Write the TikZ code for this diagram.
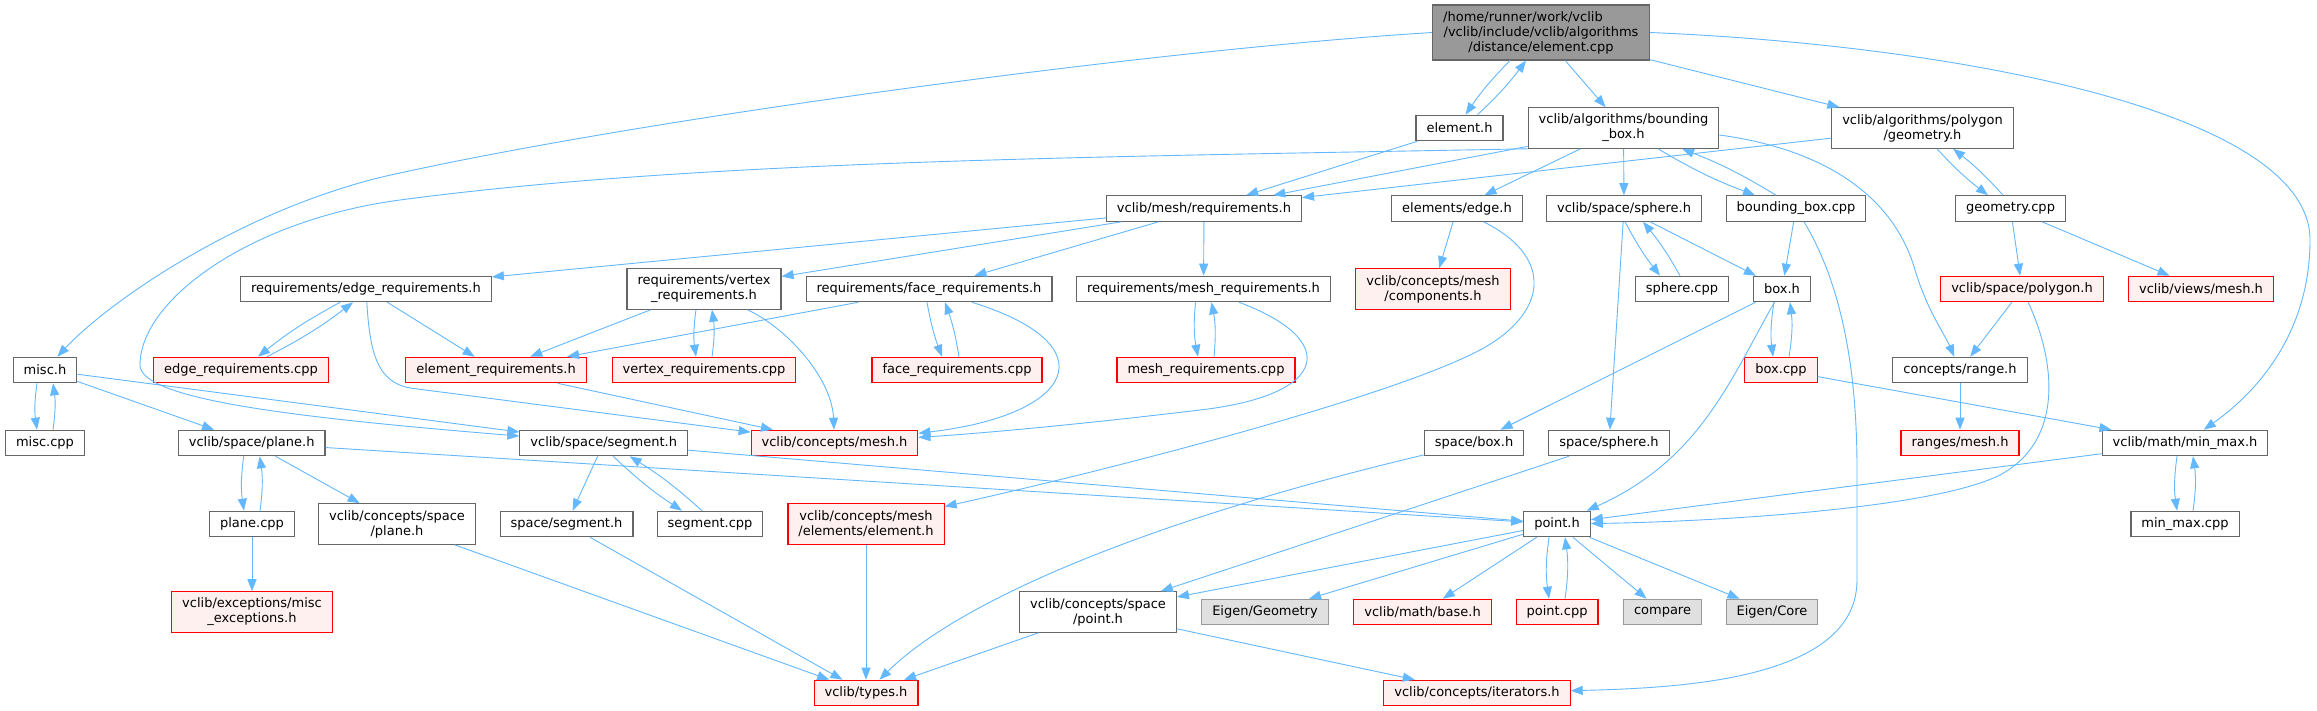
\documentclass[tikz,border=0pt]{standalone}
\usepackage{fontspec}
\setmainfont{DejaVu Sans}
\usetikzlibrary{arrows.meta}
\definecolor{edgeblue}{HTML}{63B8FF}
\definecolor{grey40}{HTML}{666666}
\definecolor{grey60}{HTML}{999999}
\definecolor{truncfill}{HTML}{FFF0F0}
\definecolor{sysfill}{HTML}{E0E0E0}
\begin{document}
\begin{tikzpicture}[x=1pt, y=-1pt,
   inc/.style={draw=grey40, fill=white, line width=1.1pt, font=\fontsize{13}{15}\selectfont,
               inner xsep=10.5pt, inner ysep=2pt, minimum height=25.5pt, align=center},
   two/.style={minimum height=40.5pt},
   trunc/.style={inc, draw=red, fill=truncfill},
   sys/.style={inc, draw=grey60, fill=sysfill},
   rootfile/.style={inc, fill=grey60, minimum height=55pt},
   dep/.style={draw=edgeblue, line width=0.9pt, -{Triangle[length=12pt,width=9pt]}}]
   \useasboundingbox[fill=white] (0,0) rectangle (2317,711);

   \node[rootfile] (root) at (1541,32.5) {/home/runner/work/vclib\hspace*{36pt}\mbox{}\\/vclib/include/vclib/algorithms\\/distance/element.cpp};

   \node[inc] (elemh) at (1459.5,128) {element.h};
   \node[inc,two] (bboxh) at (1623.5,128) {vclib/algorithms/bounding\\\_box.h};
   \node[inc,two] (geomh) at (1922.5,128) {vclib/algorithms/polygon\\/geometry.h};

   \node[inc] (meshreq) at (1204,208.5) {vclib/mesh/requirements.h};
   \node[inc] (edgeh) at (1457,208.5) {elements/edge.h};
   \node[inc] (sphereh) at (1624,208.5) {vclib/space/sphere.h};
   \node[inc] (bboxcpp) at (1796,208.5) {bounding\_box.cpp};
   \node[inc] (geomcpp) at (2010.5,208.5) {geometry.cpp};

   \node[inc] (edgereq) at (366,289) {requirements/edge\_requirements.h};
   \node[inc,two] (vertreq) at (704,289) {requirements/vertex\\\_requirements.h};
   \node[inc] (facereq) at (929,289) {requirements/face\_requirements.h};
   \node[inc] (meshreqh) at (1203.5,289) {requirements/mesh\_requirements.h};
   \node[trunc,two] (comph) at (1433,289) {vclib/concepts/mesh\\/components.h};
   \node[inc] (spherecpp) at (1682,289) {sphere.cpp};
   \node[inc] (boxh) at (1782,289) {box.h};
   \node[trunc] (polyh) at (2022,289) {vclib/space/polygon.h};
   \node[trunc] (viewsh) at (2201,289) {vclib/views/mesh.h};

   \node[inc] (misch) at (45,370) {misc.h};
   \node[trunc] (edgereqcpp) at (241,370) {edge\_requirements.cpp};
   \node[trunc] (elemreq) at (496,370) {element\_requirements.h};
   \node[trunc] (vertreqcpp) at (704,370) {vertex\_requirements.cpp};
   \node[trunc] (facereqcpp) at (957,370) {face\_requirements.cpp};
   \node[trunc] (meshreqcpp) at (1206,370) {mesh\_requirements.cpp};
   \node[trunc] (boxcpp) at (1781,370) {box.cpp};
   \node[inc] (rangeh) at (1960,370) {concepts/range.h};

   \node[inc] (misccpp) at (45,443) {misc.cpp};
   \node[inc] (planeh) at (251.7,443) {vclib/space/plane.h};
   \node[inc] (segh) at (603.7,443) {vclib/space/segment.h};
   \node[trunc] (meshh) at (834.5,443) {vclib/concepts/mesh.h};
   \node[inc] (sboxh) at (1474,443) {space/box.h};
   \node[inc] (ssphereh) at (1609,443) {space/sphere.h};
   \node[trunc] (rangesh) at (1960,443) {ranges/mesh.h};
   \node[inc] (minmaxh) at (2185,443) {vclib/math/min\_max.h};

   \node[inc] (planecpp) at (252,524) {plane.cpp};
   \node[inc,two] (cplaneh) at (397,524) {vclib/concepts/space\\/plane.h};
   \node[inc] (ssegh) at (566.5,524) {space/segment.h};
   \node[inc] (segcpp) at (710,524) {segment.cpp};
   \node[trunc,two] (elementh) at (866,524) {vclib/concepts/mesh\\/elements/element.h};
   \node[inc] (pointh) at (1557,524) {point.h};
   \node[inc] (minmaxcpp) at (2185,524) {min\_max.cpp};

   \node[trunc,two] (miscexc) at (252,612) {vclib/exceptions/misc\\\_exceptions.h};
   \node[inc,two] (cpointh) at (1098,612) {vclib/concepts/space\\/point.h};
   \node[sys] (eigengeo) at (1265,612) {Eigen/Geometry};
   \node[trunc] (baseh) at (1422.5,612) {vclib/math/base.h};
   \node[trunc] (pointcpp) at (1557,612) {point.cpp};
   \node[sys] (compare) at (1662.5,612) {compare};
   \node[sys] (eigencore) at (1772,612) {Eigen/Core};

   \node[trunc] (typesh) at (866,693) {vclib/types.h};
   \node[trunc] (iterh) at (1477,693) {vclib/concepts/iterators.h};

   \foreach \a/\b in {root/bboxh, root/geomh, elemh/meshreq, bboxh/meshreq, bboxh/edgeh,
      bboxh/sphereh, geomh/meshreq, meshreq/edgereq, meshreq/vertreq, meshreq/facereq,
      meshreq/meshreqh, edgeh/comph, sphereh/boxh, sphereh/ssphereh, bboxcpp/boxh,
      geomcpp/polyh, geomcpp/viewsh, edgereq/elemreq, vertreq/elemreq, facereq/elemreq,
      elemreq/meshh, polyh/rangeh, boxh/sboxh, boxcpp/minmaxh, rangeh/rangesh,
      misch/planeh, misch/segh, planeh/cplaneh, planeh/pointh, planecpp/miscexc,
      segh/ssegh, segh/pointh, minmaxh/pointh, ssphereh/cpointh, cplaneh/typesh,
      ssegh/typesh, elementh/typesh, pointh/cpointh, pointh/eigengeo, pointh/baseh,
      pointh/compare, pointh/eigencore, cpointh/typesh, cpointh/iterh}
      \draw[dep] (\a) -- (\b);

   \foreach \a/\b in {vertreq/vertreqcpp, meshreqh/meshreqcpp, boxh/boxcpp, misch/misccpp,
      planeh/planecpp, pointh/pointcpp, minmaxh/minmaxcpp}
   {
      \draw[dep] ([xshift=-8pt]\a.south) to[bend right=8] ([xshift=-8pt]\b.north);
      \draw[dep] ([xshift=8pt]\b.north) to[bend right=8] ([xshift=8pt]\a.south);
   }

   \foreach \a/\b/\p/\q/\r/\s in {root/elemh/-31/6/18/-15, bboxh/bboxcpp/34.5/-41/-20/58.5,
      sphereh/spherecpp/1/-22/-2/19, geomh/geomcpp/14.5/-22.5/-7.5/30.5,
      edgereq/edgereqcpp/-26/17/26/-13, facereq/facereqcpp/-2/-15/2/16,
      segh/segcpp/9.5/-28/-8/26}
   {
      \draw[dep] ([xshift=\p pt]\a.south) to[bend right=5] ([xshift=\q pt]\b.north);
      \draw[dep] ([xshift=\r pt]\b.north) to[bend right=5] ([xshift=\s pt]\a.south);
   }

   \draw[dep] (root.west) .. controls (1150,50) and (650,118) .. (400,173)
      .. controls (250,204) and (110,300) .. (misch);
   \draw[dep] (root.east) .. controls (1950,45) and (2310,110) .. (2310,240)
      .. controls (2310,330) and (2260,390) .. (minmaxh);
   \draw[dep] (bboxh.south west) .. controls (1100,157) and (700,160) .. (400,200)
      .. controls (250,220) and (140,300) .. (140,365)
      .. controls (140,400) and (300,418) .. (segh);
   \draw[dep] ([yshift=-7pt]bboxh.east) .. controls (1830,150) and (1895,200) .. (1915,270)
      .. controls (1927,310) and (1945,335) .. (rangeh);
   \draw[dep] (edgereq) .. controls (370,355) and (378,382) .. (410,388) -- (meshh);
   \draw[dep] (vertreq) .. controls (790,330) and (832,380) .. (meshh);
   \draw[dep] (facereq) .. controls (1110,345) and (1075,415) .. (meshh);
   \draw[dep] (meshreqh) .. controls (1340,340) and (1330,395) .. (1200,410)
      .. controls (1100,422) and (1000,432) .. (meshh);
   \draw[dep] (edgeh) .. controls (1560,260) and (1545,320) .. (1470,355)
      .. controls (1370,403) and (1100,472) .. (elementh);
   \draw[dep] (bboxcpp) .. controls (1845,290) and (1857,380) .. (1857,470) -- (1857,580)
      .. controls (1857,680) and (1680,688) .. (iterh);
   \draw[dep] (boxh) .. controls (1730,380) and (1700,460) .. (pointh);
   \draw[dep] (polyh) .. controls (2055,360) and (2065,440) .. (2000,475)
      .. controls (1930,510) and (1700,522) .. (pointh);
   \draw[dep] (sboxh) .. controls (1150,520) and (960,600) .. (typesh);
\end{tikzpicture}
\end{document}
